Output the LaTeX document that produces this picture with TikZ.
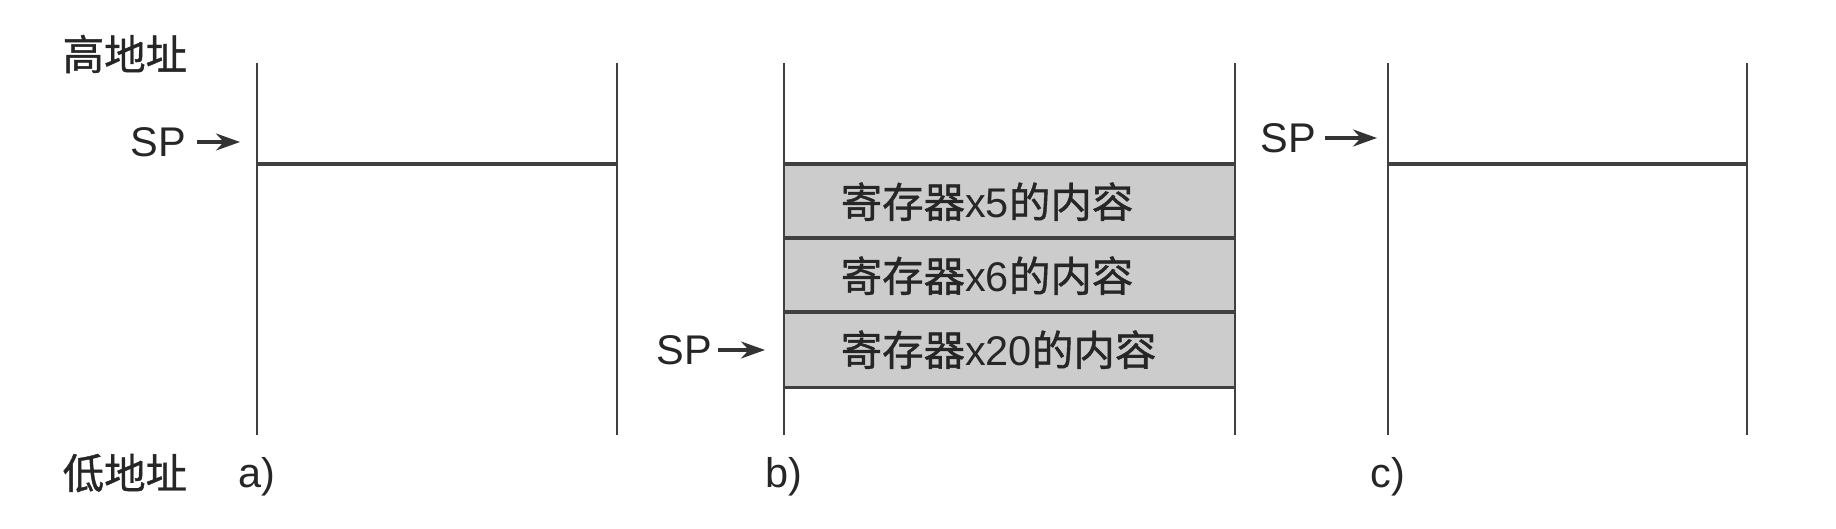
\documentclass[tikz,border=0pt]{standalone}
\usepackage{fontspec}
\setmainfont{Liberation Sans}
\newfontfamily\cjk[FakeBold=1]{Noto Sans CJK SC}
\usetikzlibrary{positioning,arrows.meta}

\begin{document}
\begin{tikzpicture}[every node/.style={inner sep=0pt, text=black!85, font=\fontsize{11.8}{14}\selectfont},
    wall/.style={draw=black!75, line width=0.6pt},
    rule/.style={draw=black!75, line width=0.9pt},
    cell/.style={fill=black!20, minimum width=4.51cm, minimum height=0.74cm},
    ptr/.style={-{Stealth[length=2.4mm, width=1.7mm]}, draw=black!80, line width=0.9pt}]
\useasboundingbox (0,0) rectangle (18.36,5.28);

% ===== Define stack parameters =====
\def\yTop{4.65}     % top of the stack walls
\def\yBot{0.93}     % bottom of the stack walls
\def\yLine{3.64}    % first line under the top of the stack
\def\hCell{0.74}    % height of one saved register

% ===== Stack walls a), b), c) =====
\foreach \name/\xl/\xr in {a/2.57/6.17, b/7.84/12.35, c/13.88/17.47} {
    \coordinate (\name TL) at (\xl,\yTop);
    \coordinate (\name BL) at (\xl,\yBot);
    \coordinate (\name TR) at (\xr,\yTop);
    \coordinate (\name BR) at (\xr,\yBot);
    \coordinate (\name L) at (\xl,\yLine);
    \coordinate (\name R) at (\xr,\yLine);
}

% ===== Saved registers in b) =====
\foreach \i/\r in {1/5, 2/6, 3/20} {
    \pgfmathsetmacro\y{\yLine-(\i-1)*\hCell}
    \node[cell, anchor=north west] (R\i) at (7.84,\y) {};
    \node[anchor=west] (T\i) at ([xshift=0.56cm]R\i.west) {{\cjk 寄存器}x\r{\cjk 的内容}};
    \draw[rule] (R\i.north west) -- (R\i.north east);
}
\draw[rule] (R3.south west) -- (R3.south east);

% walls drawn over the cells
\foreach \name in {a,b,c} {
    \draw[wall] (\name TL) -- (\name BL);
    \draw[wall] (\name TR) -- (\name BR);
}
\draw[rule] (aL) -- (aR);
\draw[rule] (cL) -- (cR);

% ===== Stack pointers =====
\coordinate (pA) at (2.40,3.86);
\coordinate (pB) at (7.65,1.78);
\coordinate (pC) at (13.77,3.90);
\node[left=0.53cm of pA] (spA) {SP};
\node[left=0.52cm of pB] (spB) {SP};
\node[left=0.60cm of pC] (spC) {SP};
\draw[ptr, shorten <=0.1cm] (spA) -- (pA);
\draw[ptr, shorten <=0.05cm] (spB) -- (pB);
\draw[ptr, shorten <=0.08cm] (spC) -- (pC);

% ===== Labels =====
\node[anchor=west] (high) at (0.62,4.74) {\cjk 高地址};
\node[anchor=west] (low) at (0.62,0.55) {\cjk 低地址};
\node[below=0.22cm of aBL] (labA) {a)};
\node[below=0.22cm of bBL] (labB) {b)};
\node[below=0.22cm of cBL] (labC) {c)};

\end{tikzpicture}
\end{document}
